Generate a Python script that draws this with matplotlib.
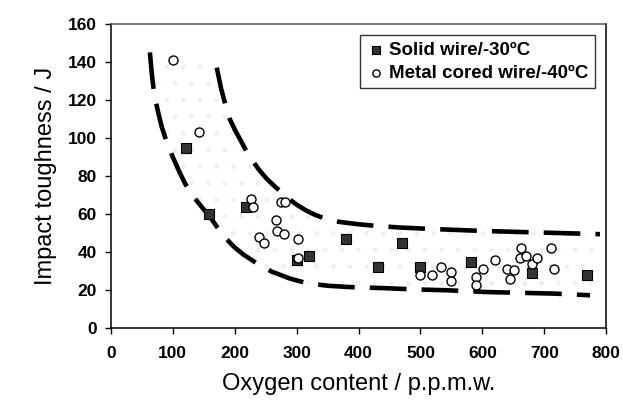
import matplotlib.pyplot as plt
import numpy as np

plt.rcParams["font.family"] = ["Liberation Sans", "DejaVu Sans"]
plt.rcParams["hatch.linewidth"] = 1.0

# solid wire, tested at -30C
solid_x = [121, 159, 218, 300, 320, 379, 431, 470, 499, 581, 680, 769]
solid_y = [95, 60, 64, 36, 38, 47, 32, 45, 32, 35, 29, 28]

# metal cored wire, tested at -40C
cored_x = [100, 143, 226, 229, 274, 281, 266, 269, 280, 239, 248, 303, 302,
           500, 519, 533, 549, 549, 590, 590, 601, 620, 639, 651, 645,
           663, 661, 670, 680, 689, 711, 716]
cored_y = [141, 103, 68, 64, 66.5, 66.5, 57, 51, 49.5, 48, 45, 47, 37,
           28, 28, 32, 29.6, 25, 27, 23, 31.4, 36, 31, 30.5, 26,
           42, 37, 38, 34, 37, 42, 31]

# envelope lines
upper_x = [171, 178, 185, 192, 200, 210, 220, 230, 240, 252, 264, 276, 288,
           300, 315, 330, 346, 370, 400, 430, 467, 520, 600, 700, 790]
upper_y = [137, 126, 117.5, 110, 104.5, 98.5, 92.5, 87.5, 83, 78.5, 74.8,
           71.3, 68, 65, 62, 59.6, 57.7, 55.9, 54.7, 53.8, 53, 52.2, 51.2,
           50.3, 49.5]
lower_x = [63, 66, 70, 76, 82, 90, 100, 111, 120, 135, 150, 160, 171, 185,
           200, 214, 235, 260, 289, 316, 350, 386, 437, 490, 545, 607, 660,
           714, 774]
lower_y = [145, 134, 123, 114, 106, 98, 90, 82, 76, 68.5, 62.5, 58.6, 53.5,
           47.5, 42.5, 38.8, 34.3, 29.8, 26.2, 23.8, 22.4, 21.7, 21.2, 20.5,
           20, 19.1, 18.7, 18.3, 17.4]

xticks = [0, 100, 200, 300, 400, 500, 600, 700, 800]
yticks = [0, 20, 40, 60, 80, 100, 120, 140, 160]

fig = plt.figure(figsize=(6.23, 4.11), dpi=100)
ax = fig.add_axes([0.178, 0.201, 0.795, 0.741])

# faint dotted band between the envelopes
band_x = upper_x + lower_x[::-1]
band_y = upper_y + lower_y[::-1]
ax.fill(band_x, band_y, facecolor="none", edgecolor="#efefef", linewidth=0,
        hatch=".", zorder=0)

dash = (0, (8, 3.3))
ax.plot(upper_x, upper_y, color="black", lw=3.3, linestyle=dash,
        dash_capstyle="butt", solid_joinstyle="round", zorder=2)
ax.plot(lower_x, lower_y, color="black", lw=3.3, linestyle=dash,
        dash_capstyle="butt", solid_joinstyle="round", zorder=2)

ax.scatter(solid_x, solid_y, marker="s", s=62, facecolor="#333333",
           edgecolor="black", linewidths=0.8, zorder=3,
           label="Solid wire/-30ºC")
ax.scatter(cored_x, cored_y, marker="o", s=42, facecolor="white",
           edgecolor="black", linewidths=1.0, zorder=4,
           label="Metal cored wire/-40ºC")

ax.set_xlim(0, 800)
ax.set_ylim(0, 160)
ax.set_xticks(xticks)
ax.set_yticks(yticks)
ax.tick_params(direction="out", length=4, width=1, labelsize=12.5, pad=6)
for lab in ax.get_xticklabels() + ax.get_yticklabels():
    lab.set_fontweight("bold")
ax.tick_params(axis="x", pad=9)

for side in ["left", "bottom", "right", "top"]:
    ax.spines[side].set_linewidth(1.1)
    ax.spines[side].set_color("black")
ax.spines["top"].set_color("#555555")

ax.set_xlabel("Oxygen content / p.p.m.w.", fontsize=17, labelpad=8)
ax.set_ylabel("Impact toughness / J", fontsize=17, labelpad=8)

leg = ax.legend(loc="upper right", bbox_to_anchor=(0.985, 0.975),
                frameon=True, fancybox=False, markerscale=0.8,
                handletextpad=0.2, borderpad=0.35, labelspacing=0.3,
                handlelength=1.0, borderaxespad=0.2,
                prop={"weight": "bold", "size": 13.5})
leg.get_frame().set_edgecolor("black")
leg.get_frame().set_linewidth(1.0)

fig.savefig("out.png", dpi=100)
